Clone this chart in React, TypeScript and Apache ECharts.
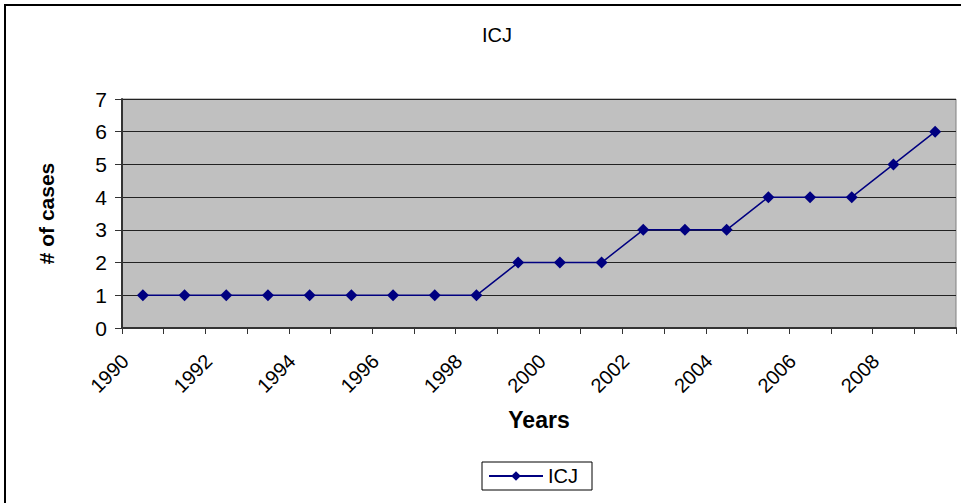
import React, { useEffect, useRef } from "react";
import * as echarts from "echarts";

const years = ["1990","1991","1992","1993","1994","1995","1996","1997","1998","1999","2000","2001","2002","2003","2004","2005","2006","2007","2008","2009"];
const icjCases = [1,1,1,1,1,1,1,1,1,2,2,2,3,3,3,4,4,4,5,6];

const FONT = "Liberation Sans, Arial, sans-serif";

export default function App() {
  const ref = useRef<HTMLDivElement>(null);
  useEffect(() => {
    if (!ref.current) return;
    const chart = echarts.init(ref.current, undefined, { renderer: "svg" });
    chart.setOption({
      animation: false,
      backgroundColor: "#ffffff",
      title: {
        text: "ICJ",
        left: 492,
        top: 20,
        textAlign: "center",
        textStyle: { fontFamily: FONT, fontSize: 20, fontWeight: "normal", color: "#000" },
      },
      legend: {
        data: ["ICJ"],
        left: 482,
        top: 462,
        itemWidth: 54,
        itemHeight: 12,
        itemGap: 4,
        padding: [4, 14, 4, 6],
        borderColor: "#000",
        borderWidth: 1,
        textStyle: { fontFamily: FONT, fontSize: 20, color: "#000" },
      },
      grid: {
        left: 122,
        right: 5,
        top: 99,
        bottom: 175,
        show: true,
        backgroundColor: "#C0C0C0",
        borderColor: "#808080",
        borderWidth: 1,
      },
      xAxis: {
        type: "category",
        data: years,
        boundaryGap: true,
        name: "Years",
        nameLocation: "middle",
        nameGap: 80,
        nameTextStyle: { fontFamily: FONT, fontSize: 23, fontWeight: "bold", color: "#000" },
        axisLine: { lineStyle: { color: "#333", width: 2 } },
        axisTick: { show: true, interval: 0, length: 6, lineStyle: { color: "#333" } },
        axisLabel: {
          interval: 1,
          rotate: 45,
          margin: 12,
          formatter: (v: string) => `{t|${v}}{s|}`,
          rich: {
            t: { fontFamily: FONT, fontSize: 20, color: "#000" },
            s: { width: 25 },
          },
          fontFamily: FONT,
          fontSize: 20,
          color: "#000",
        },
        splitLine: { show: false },
      },
      yAxis: {
        type: "value",
        min: 0,
        max: 7,
        interval: 1,
        name: "# of cases",
        nameLocation: "middle",
        nameGap: 65,
        nameTextStyle: { fontFamily: FONT, fontSize: 21, fontWeight: "bold", color: "#000" },
        axisLine: { show: true, lineStyle: { color: "#333", width: 2 } },
        axisTick: { show: true, length: 7, lineStyle: { color: "#333" } },
        axisLabel: { margin: 15, fontFamily: FONT, fontSize: 21, color: "#000" },
        splitLine: { show: true, lineStyle: { color: "#222", width: 1 } },
      },
      series: [
        {
          name: "ICJ",
          type: "line",
          data: icjCases,
          color: "#000080",
          symbol: "diamond",
          symbolSize: 12,
          lineStyle: { color: "#000080", width: 1.5 },
          itemStyle: { color: "#000080" },
        },
      ],
      graphic: [
        {
          type: "rect",
          shape: { x: 5, y: 5, width: 1000, height: 600 },
          style: { fill: "none", stroke: "#000", lineWidth: 2 },
          silent: true,
        },
      ],
    });
    return () => chart.dispose();
  }, []);
  return <div ref={ref} style={{ position: "fixed", left: 0, top: 0, width: 961, height: 503 }} />;
}
